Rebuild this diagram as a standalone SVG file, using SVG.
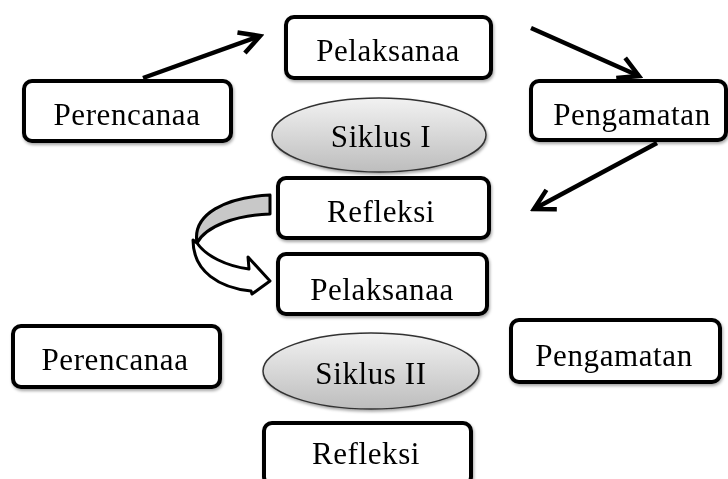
<svg xmlns="http://www.w3.org/2000/svg" width="728" height="479" viewBox="0 0 728 479">
<defs>
<style>
.box{fill:#fff;stroke:#000;stroke-width:4}
.ell{fill:url(#g);stroke:#333;stroke-width:1.5}
.t{font-family:"Liberation Serif","Times New Roman",serif;font-size:31px;letter-spacing:0.6px;fill:#000;text-anchor:middle}
.con{stroke:#000;stroke-width:4.5;fill:none}
</style>
<linearGradient id="g" x1="0" y1="0" x2="0" y2="1">
<stop offset="0" stop-color="#f2f2f2"/>
<stop offset="1" stop-color="#bdbdbd"/>
</linearGradient>
<filter id="sh" x="-10%" y="-10%" width="130%" height="140%">
<feDropShadow dx="1" dy="2" stdDeviation="1.5" flood-color="#000" flood-opacity="0.35"/>
</filter>
<marker id="ah" viewBox="-24 -14 28 28" markerWidth="28" markerHeight="28" refX="0" refY="0" orient="auto" markerUnits="userSpaceOnUse">
<path d="M-20,-11 L0,0 L-20,11" fill="none" stroke="#000" stroke-width="4.5"/>
</marker>
</defs>

<g id="connectors">
<line class="con" x1="143" y1="78" x2="260" y2="36" marker-end="url(#ah)"/>
<line class="con" x1="531" y1="28" x2="639" y2="76" marker-end="url(#ah)"/>
<line class="con" x1="657" y1="143" x2="534" y2="209" marker-end="url(#ah)"/>
<g id="curved-arrow" stroke="#000" stroke-width="3" stroke-linejoin="round">
<path d="M270,195 L270,214 C236,215 206,226 197,243 C192,214 226,197 270,195 Z" fill="#c8c8c8"/>
<path d="M197,243 C206,256 226,266 249,269 L248,257 L270,281 L252,294 L251,291 C220,288 193,272 193,240 Z" fill="#fff"/>
</g>
</g>

<g id="perencanaa1" filter="url(#sh)"><rect class="box" x="24" y="81" width="207" height="60" rx="8"/><text class="t" x="127" y="125">Perencanaa</text></g>
<g id="pelaksanaa1" filter="url(#sh)"><rect class="box" x="286" y="17" width="205" height="61" rx="8"/><text class="t" x="388" y="61">Pelaksanaa</text></g>
<g id="pengamatan1" filter="url(#sh)"><rect class="box" x="531" y="81" width="195" height="59" rx="8"/><text class="t" x="632" y="125">Pengamatan</text></g>
<g id="siklus1" filter="url(#sh)"><ellipse class="ell" cx="379" cy="135" rx="107" ry="37"/><text class="t" x="381" y="147">Siklus I</text></g>
<g id="refleksi1" filter="url(#sh)"><rect class="box" x="278" y="178" width="211" height="60" rx="8"/><text class="t" x="381" y="222">Refleksi</text></g>

<g id="pelaksanaa2" filter="url(#sh)"><rect class="box" x="278" y="254" width="209" height="60" rx="8"/><text class="t" x="382" y="300">Pelaksanaa</text></g>
<g id="perencanaa2" filter="url(#sh)"><rect class="box" x="13" y="326" width="207" height="61" rx="8"/><text class="t" x="115" y="370">Perencanaa</text></g>
<g id="pengamatan2" filter="url(#sh)"><rect class="box" x="511" y="320" width="209" height="62" rx="8"/><text class="t" x="614" y="366">Pengamatan</text></g>
<g id="siklus2" filter="url(#sh)"><ellipse class="ell" cx="371" cy="371" rx="108" ry="38"/><text class="t" x="371" y="384">Siklus II</text></g>
<g id="refleksi2" filter="url(#sh)"><rect class="box" x="264" y="423" width="207" height="62" rx="8"/><text class="t" x="366" y="464">Refleksi</text></g>
</svg>
